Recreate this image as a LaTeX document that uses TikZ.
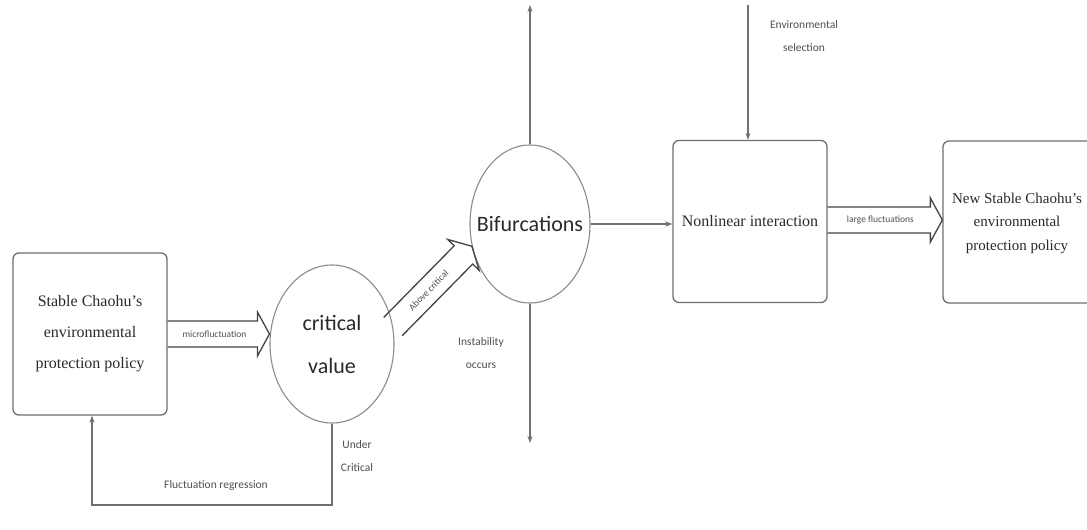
\documentclass[tikz,border=0pt]{standalone}
\usepackage{fontspec}
\setmainfont{Liberation Serif}
\newfontfamily\carl{Carlito}
\usetikzlibrary{shapes.geometric,arrows.meta,calc}
\definecolor{boxgray}{HTML}{707070}
\definecolor{ovalgray}{HTML}{8A8A8A}
\definecolor{linegray}{HTML}{707070}
\definecolor{fatgray}{HTML}{444444}
\definecolor{textgray}{HTML}{2A2A2A}
\definecolor{lblgray}{HTML}{505050}
\begin{document}
\begin{tikzpicture}[x=1pt,y=-1pt,
  box/.style={draw=boxgray, line width=1.3pt, rounded corners=6pt, minimum width=154pt, minimum height=162pt, align=center, text=textgray},
  oval/.style={ellipse, draw=ovalgray, line width=1.1pt, inner sep=0pt},
  conn/.style={draw=linegray, line width=1.1pt, -{Stealth[length=7pt,width=5pt]}},
  fatarrow/.style={draw=fatgray, line width=1.3pt, to path={
    ($(\tikztostart)!13pt!90:(\tikztotarget)$)
    -- ($($(\tikztotarget)!12pt!(\tikztostart)$)!13pt!-90:(\tikztostart)$)
    -- ($($(\tikztotarget)!12pt!(\tikztostart)$)!22pt!-90:(\tikztostart)$)
    -- (\tikztotarget)
    -- ($($(\tikztotarget)!12pt!(\tikztostart)$)!22pt!90:(\tikztostart)$)
    -- ($($(\tikztotarget)!12pt!(\tikztostart)$)!13pt!90:(\tikztostart)$)
    -- ($(\tikztostart)!13pt!-90:(\tikztotarget)$)}},
  lbl/.style={font=\carl\fontsize{11.5}{23.5}\selectfont, text=lblgray, align=center},
  inlbl/.style={font=\carl\fontsize{9.5}{11}\selectfont, text=lblgray, inner sep=1pt}
]
\path[use as bounding box, clip] (0,0) rectangle (1087,530);
\fill[white] (0,0) rectangle (1087,530);

% main nodes
\node[box, font=\fontsize{16}{31}\selectfont] (left) at (90,334) {Stable Chaohu's\\environmental\\protection policy};
\node[oval, minimum width=124pt, minimum height=158pt] (crit) at (332,344) {};
\node[font=\carl\fontsize{22}{43}\selectfont, text=textgray, align=center] (critt) at (crit.center) {critical\\value};
\node[oval, minimum width=120pt, minimum height=158pt] (bif) at (530,224) {};
\node[font=\carl\fontsize{22}{26}\selectfont, text=textgray] (bift) at (bif.center) {Bifurcations};
\node[box, font=\fontsize{16}{23}\selectfont] (nl) at (750,221.5) {Nonlinear interaction};
\node[box, minimum width=160pt] (new) at (1023,222) {};
\node[font=\fontsize{15}{23.5}\selectfont, text=textgray, align=center, inner sep=0pt] (newt) at (1017,223) {New Stable Chaohu's\\environmental\\protection policy};

% free ends
\coordinate (uptop) at (530,5);
\coordinate (downend) at (530,443);
\coordinate (envtop) at (748,5);
\coordinate (fbl) at (92,505);

% fat arrows
\draw[fatarrow] (left.east) to (crit.west |- left.east);
\path (left.east) -- node[inlbl, pos=0.46] (microlbl) {microfluctuation} (crit.west |- left.east);
\draw[fatarrow] (crit.16) to (bif.201);
\path (crit.16) -- node[inlbl, sloped, pos=0.45] (abovelbl) {Above critical} (bif.201);
\draw[fatarrow] (nl.east |- 0,220) to (new.west |- 0,220);
\path (nl.east |- 0,220) -- node[inlbl, pos=0.46] (largelbl) {large fluctuations} (new.west |- 0,220);

% thin connectors
\draw[conn] (bif.north) -- (uptop);
\draw[conn] (bif.south) -- (downend);
\draw[conn] (bif.east) -- (nl.west |- bif.east);
\draw[conn] (envtop) -- (envtop |- nl.north);
\draw[conn] (crit.south) |- (fbl) -- (fbl |- left.south);

% labels
\node[lbl] (envlab) at (804,36) {Environmental\\selection};
\node[lbl] (instlab) at (481,353) {Instability\\occurs};
\node[lbl] (underlab) at (357,456) {Under\\Critical};
\node[lbl] (fluclab) at (216,485) {Fluctuation regression};
\end{tikzpicture}
\end{document}
